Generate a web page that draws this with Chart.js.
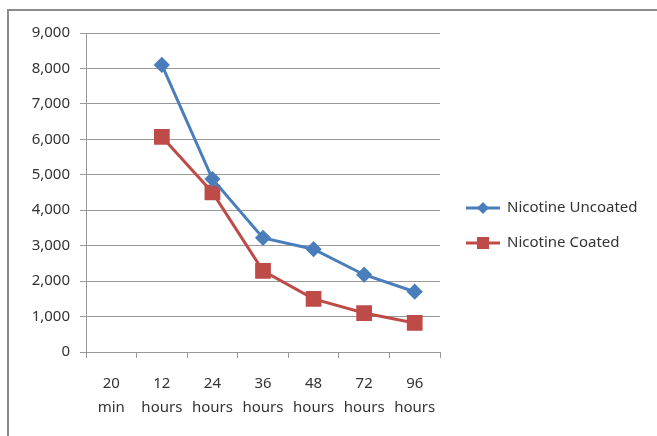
<!DOCTYPE html>
<html>
<head>
<meta charset="utf-8">
<script src="https://cdn.jsdelivr.net/npm/chart.js@4/dist/chart.umd.min.js"></script>
<style>
  html, body { margin: 0; padding: 0; background: #fff; }
  #wrap { width: 657px; height: 436px; position: relative; }
</style>
</head>
<body>
<div id="wrap"><canvas id="c" width="657" height="436"></canvas></div>
<script>
// data
const categories = [['20', 'min'], ['12', 'hours'], ['24', 'hours'], ['36', 'hours'], ['48', 'hours'], ['72', 'hours'], ['96', 'hours']];
const uncoated = [null, 8100, 4880, 3220, 2900, 2180, 1700];
const coated = [null, 6070, 4500, 2290, 1500, 1100, 820];
const seriesNames = ['Nicotine Uncoated', 'Nicotine Coated'];

const BLUE = '#4a7ebb';
const RED = '#be4b48';
const FONT = '"Noto Sans", sans-serif';

// frame round the chart, top and left edges only are visible
const framePlugin = {
  id: 'frame',
  beforeDraw(chart) {
    const c = chart.ctx;
    c.save();
    c.strokeStyle = '#8c8c8c';
    c.lineWidth = 2;
    c.beginPath();
    c.moveTo(8, 436);
    c.lineTo(8, 10);
    c.lineTo(657, 10);
    c.stroke();
    c.restore();
  }
};

// legend: line sample with marker, as in the original
const legendPlugin = {
  id: 'lineLegend',
  afterDraw(chart) {
    const c = chart.ctx;
    const x0 = chart.chartArea.right + 26;
    const rows = [208, 243];
    c.save();
    chart.data.datasets.forEach((ds, i) => {
      const y = rows[i];
      c.strokeStyle = ds.borderColor;
      c.lineWidth = 3;
      c.beginPath();
      c.moveTo(x0, y);
      c.lineTo(x0 + 34, y);
      c.stroke();
      c.fillStyle = ds.borderColor;
      if (ds.pointStyle === 'rect') {
        c.fillRect(x0 + 17 - 6, y - 6, 12, 12);
      } else {
        c.beginPath();
        c.moveTo(x0 + 17, y - 6);
        c.lineTo(x0 + 23, y);
        c.lineTo(x0 + 17, y + 6);
        c.lineTo(x0 + 11, y);
        c.closePath();
        c.fill();
      }
      c.fillStyle = '#333';
      c.font = '15px ' + FONT;
      c.textBaseline = 'middle';
      c.fillText(ds.label, x0 + 41, y);
    });
    c.restore();
  }
};

new Chart(document.getElementById('c'), {
  type: 'line',
  data: {
    labels: categories,
    datasets: [{
      label: seriesNames[0],
      data: uncoated,
      borderColor: BLUE,
      backgroundColor: BLUE,
      borderWidth: 3,
      pointStyle: 'rectRot',
      pointRadius: 6,
      pointHoverRadius: 6,
      tension: 0
    }, {
      label: seriesNames[1],
      data: coated,
      borderColor: RED,
      backgroundColor: RED,
      borderWidth: 3,
      pointStyle: 'rect',
      pointRadius: 9,
      pointHoverRadius: 9,
      tension: 0
    }]
  },
  options: {
    responsive: false,
    animation: false,
    layout: { padding: { left: 0, top: 33, right: 217, bottom: 14 } },
    plugins: {
      legend: { display: false },
      tooltip: { enabled: false }
    },
    scales: {
      x: {
        offset: true,
        afterFit: (s) => { s.height = 70; },
        grid: { offset: true, drawOnChartArea: false, drawTicks: true, tickLength: 6, color: '#999' },
        border: { display: true, color: '#999' },
        ticks: { color: '#333', font: { family: FONT, size: 15, lineHeight: 1.6 }, padding: 14, maxRotation: 0 }
      },
      y: {
        min: 0,
        max: 9000,
        afterFit: (s) => { s.width = 86; },
        ticks: { stepSize: 1000, color: '#333', font: { family: FONT, size: 15 }, padding: 10 },
        grid: { color: '#999', tickLength: 6 },
        border: { display: true, color: '#999' }
      }
    }
  },
  plugins: [framePlugin, legendPlugin]
});
</script>
</body>
</html>
